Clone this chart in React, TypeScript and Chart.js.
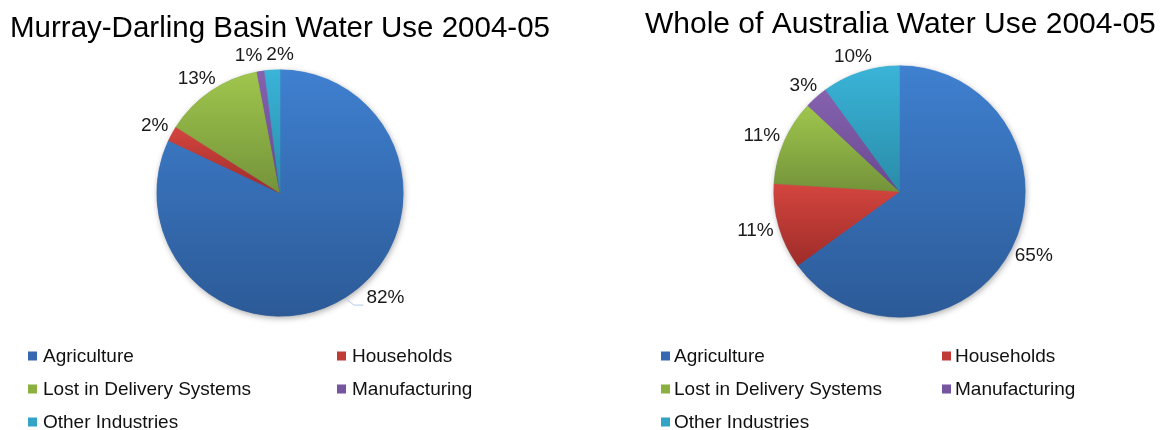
import React, { useEffect, useRef } from 'react';
import { Chart, registerables } from 'chart.js';

Chart.register(...registerables);

// ---------- data ----------
const categories = ['Agriculture', 'Households', 'Lost in Delivery Systems', 'Manufacturing', 'Other Industries'];
const murrayDarlingValues = [82, 2, 13, 1, 2];
const australiaValues = [65, 11, 11, 3, 10];
const murrayDarlingTitle = 'Murray-Darling Basin Water Use 2004-05';
const australiaTitle = 'Whole of Australia Water Use 2004-05';

// ---------- styles ----------
const FONT = '"Liberation Sans", Arial, Helvetica, sans-serif';
const lightColors = ['#3f80d0', '#d4453f', '#a0c64d', '#8662ae', '#3ab4d8'];
const darkColors = ['#2c5a97', '#9e2c29', '#74933a', '#684890', '#2a8ca8'];
const legendColors = ['#3668b2', '#c23a38', '#8cb03f', '#7555a0', '#34a4c6'];

function sliceGradient(c: any) {
  const chart = c.chart;
  const area = chart.chartArea;
  const i = c.dataIndex;
  if (!area || i === undefined) return legendColors[i || 0];
  const data = c.dataset.data as number[];
  const total = data.reduce((a, b) => a + b, 0);
  let before = 0;
  for (let k = 0; k < i; k++) before += data[k];
  const a0 = -Math.PI / 2 + (2 * Math.PI * before) / total;
  const a1 = a0 + (2 * Math.PI * data[i]) / total;
  const cy = (area.top + area.bottom) / 2;
  const r = Math.min(area.right - area.left, area.bottom - area.top) / 2;
  const ys = [cy, cy + r * Math.sin(a0), cy + r * Math.sin(a1)];
  for (const t of [-Math.PI / 2, Math.PI / 2, (3 * Math.PI) / 2]) {
    if (t >= a0 && t <= a1) ys.push(cy + r * Math.sin(t));
  }
  const y0 = Math.min(...ys);
  const y1 = Math.max(...ys) + 0.01;
  const g = chart.ctx.createLinearGradient(0, y0, 0, y1);
  g.addColorStop(0, lightColors[i]);
  g.addColorStop(1, darkColors[i]);
  return g;
}

const pieExtras = {
  id: 'pieExtras',
  beforeDatasetsDraw(chart: any) {
    const area = chart.chartArea;
    const cx = (area.left + area.right) / 2;
    const cy = (area.top + area.bottom) / 2;
    const r = Math.min(area.right - area.left, area.bottom - area.top) / 2;
    const ctx = chart.ctx;
    ctx.save();
    ctx.shadowColor = 'rgba(0,0,0,0.35)';
    ctx.shadowBlur = 6;
    ctx.shadowOffsetX = 1;
    ctx.shadowOffsetY = 2;
    ctx.beginPath();
    ctx.arc(cx, cy, r - 0.5, 0, Math.PI * 2);
    ctx.fillStyle = '#3563a6';
    ctx.fill();
    ctx.restore();
  },
  afterDatasetsDraw(chart: any, _args: any, opts: any) {
    const ctx = chart.ctx;
    const meta = chart.getDatasetMeta(0);
    const data = chart.data.datasets[0].data as number[];
    const total = data.reduce((a, b) => a + b, 0);
    const size = opts.labelSize;
    ctx.save();
    ctx.font = `${size}px ${FONT}`;
    const pad = opts.pad;
    const labels = meta.data.map((arc: any, i: number) => {
      const p = arc.getProps(['x', 'y', 'startAngle', 'endAngle', 'outerRadius'], true);
      const mid = (p.startAngle + p.endAngle) / 2;
      const cos = Math.cos(mid);
      const sin = Math.sin(mid);
      const text = Math.round((data[i] / total) * 100) + '%';
      const hw = ctx.measureText(text).width / 2;
      const hh = size * 0.5;
      let lx = p.x + (p.outerRadius + pad) * cos + hw * cos;
      let ly = p.y + (p.outerRadius + pad) * sin + hh * sin;
      const nudge = opts.nudges && opts.nudges[i];
      if (nudge) {
        lx += nudge[0];
        ly += nudge[1];
      }
      return {
        text, lx, ly, hw, hh,
        ex: p.x + p.outerRadius * cos,
        ey: p.y + p.outerRadius * sin,
        leader: !!nudge,
      };
    });
    // push overlapping labels apart horizontally
    const gap = 4;
    for (let it = 0; it < 10; it++) {
      for (let a = 0; a < labels.length; a++) {
        for (let b = a + 1; b < labels.length; b++) {
          const A = labels[a];
          const B = labels[b];
          const dx = B.lx - A.lx;
          if (Math.abs(B.ly - A.ly) < A.hh + B.hh && Math.abs(dx) < A.hw + B.hw + gap) {
            const ov = A.hw + B.hw + gap - Math.abs(dx);
            const s = dx >= 0 ? 1 : -1;
            A.lx -= (s * ov) / 2;
            B.lx += (s * ov) / 2;
          }
        }
      }
    }
    for (const L of labels) {
      if (L.leader) {
        ctx.strokeStyle = '#b3cbe8';
        ctx.lineWidth = 1;
        ctx.beginPath();
        ctx.moveTo(L.ex, L.ey + 2);
        ctx.lineTo(L.ex + 8, L.ly + 7);
        ctx.lineTo(L.lx - L.hw - 3, L.ly + 7);
        ctx.stroke();
      }
      ctx.fillStyle = '#1a1a1a';
      ctx.textAlign = 'center';
      ctx.textBaseline = 'middle';
      ctx.fillText(L.text, L.lx, L.ly);
    }
    ctx.restore();
  },
  afterDraw(chart: any, _args: any, opts: any) {
    const ctx = chart.ctx;
    ctx.save();
    // title
    ctx.fillStyle = '#000';
    ctx.font = `${opts.titleSize}px ${FONT}`;
    ctx.textAlign = 'left';
    ctx.textBaseline = 'alphabetic';
    ctx.fillText(opts.title, opts.titleX, opts.titleY);
    // legend
    const lg = opts.legend;
    ctx.font = `${lg.size}px ${FONT}`;
    ctx.textBaseline = 'middle';
    const labels = chart.data.labels as string[];
    labels.forEach((lab: string, i: number) => {
      const col = i % 2;
      const row = Math.floor(i / 2);
      const sx = lg.squareX[col];
      const tx = lg.textX[col];
      const y = lg.rowY + row * lg.rowGap;
      ctx.fillStyle = legendColors[i];
      ctx.fillRect(sx, y - lg.box / 2, lg.box, lg.box);
      ctx.fillStyle = '#111';
      ctx.fillText(lab, tx, y + 1);
    });
    ctx.restore();
  },
};

type PieProps = {
  values: number[];
  title: string;
  width: number;
  left: number;
  padding: { left: number; right: number; top: number; bottom: number };
  extras: any;
};

function PieChart({ values, title, width, left, padding, extras }: PieProps) {
  const ref = useRef<HTMLCanvasElement>(null);
  useEffect(() => {
    if (!ref.current) return;
    const chart = new Chart(ref.current, {
      type: 'pie',
      data: {
        labels: categories,
        datasets: [
          {
            data: values,
            backgroundColor: sliceGradient as any,
            borderColor: sliceGradient as any,
            borderWidth: 0.6,
          },
        ],
      },
      options: {
        responsive: false,
        animation: false,
        events: [],
        layout: { padding },
        plugins: {
          legend: { display: false },
          title: { display: false },
          tooltip: { enabled: false },
          pieExtras: { title, ...extras },
        } as any,
      },
      plugins: [pieExtras],
    });
    return () => chart.destroy();
  }, []);
  return (
    <canvas
      ref={ref}
      width={width}
      height={430}
      style={{ position: 'absolute', left, top: 0, width, height: 430 }}
    />
  );
}

export default function App() {
  return (
    <div style={{ position: 'absolute', left: 0, top: 0, width: 1163, height: 430, background: '#fff', overflow: 'hidden' }}>
      <PieChart
        values={murrayDarlingValues}
        title={murrayDarlingTitle}
        width={600}
        left={0}
        padding={{ left: 156.5, right: 196.5, top: 69.5, bottom: 113.5 }}
        extras={{
          titleSize: 29.5,
          titleX: 10,
          titleY: 37,
          labelSize: 19,
          pad: 6,
          nudges: [[26, -12], null, null, null, null],
          legend: { size: 19, box: 9, squareX: [28, 337], textX: [43, 352], rowY: 356, rowGap: 33 },
        }}
      />
      <PieChart
        values={australiaValues}
        title={australiaTitle}
        width={563}
        left={600}
        padding={{ left: 173.5, right: 137.5, top: 65.5, bottom: 112.5 }}
        extras={{
          titleSize: 30,
          titleX: 45,
          titleY: 33,
          labelSize: 19,
          pad: 6,
          nudges: null,
          legend: { size: 19, box: 9, squareX: [61, 342], textX: [74, 355], rowY: 356, rowGap: 33 },
        }}
      />
    </div>
  );
}
